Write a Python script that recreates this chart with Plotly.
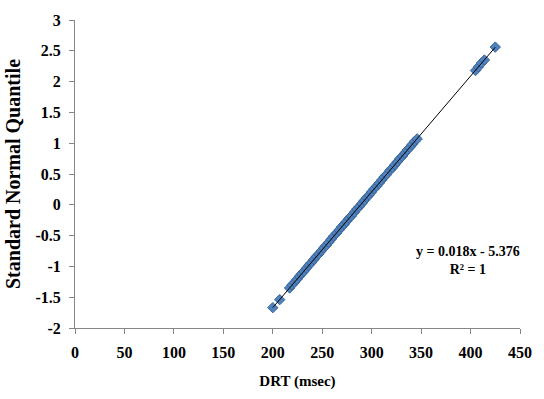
import numpy as np
import plotly.graph_objects as go

# DRT (msec) values and their standard normal quantiles
drt = [200, 207, 217, 219.5, 222, 224.5, 227, 229, 231.5, 234, 236.5, 239, 241.5,
       244, 246.5, 249, 251.5, 254, 256.5, 259, 261.5, 264.5, 267, 269.5, 272,
       274.5, 277, 279.5, 282.5, 285, 287.5, 290, 292.5, 295, 297.5, 300, 302.5,
       305, 307.5, 310, 312.5, 315, 318.5, 321, 323.5, 326, 328.5, 331, 333.5,
       336, 338.5, 341, 343.5, 346, 405, 408, 411, 414, 425]
quantile = [-1.67, -1.54, -1.35, -1.30, -1.26, -1.21, -1.16, -1.12, -1.08, -1.03,
            -0.98, -0.94, -0.89, -0.84, -0.80, -0.75, -0.70, -0.66, -0.61, -0.56,
            -0.51, -0.46, -0.41, -0.36, -0.32, -0.27, -0.22, -0.18, -0.12, -0.07,
            -0.03, 0.02, 0.07, 0.12, 0.16, 0.21, 0.26, 0.30, 0.35, 0.40, 0.45,
            0.49, 0.56, 0.60, 0.65, 0.70, 0.75, 0.79, 0.84, 0.89, 0.93, 0.98,
            1.03, 1.07, 2.18, 2.24, 2.30, 2.35, 2.56]

x_ticks = [0, 50, 100, 150, 200, 250, 300, 350, 400, 450]
x_ticktext = ["%d" % v for v in x_ticks]
y_ticks = [-2, -1.5, -1, -0.5, 0, 0.5, 1, 1.5, 2, 2.5, 3]
y_ticktext = ["-2", "-1.5", "-1", "-0.5", "0", "0.5", "1", "1.5", "2", "2.5", "3"]
equation_text = "y = 0.018x - 5.376<br>R² = 1"

FONT = "Liberation Serif"
AXIS_COLOR = "#868686"

slope, intercept = np.polyfit(drt, quantile, 1)
fit_x = [min(drt), max(drt)]
fit_y = [slope * v + intercept for v in fit_x]

fig = go.Figure()
fig.add_trace(go.Scatter(
    x=drt, y=quantile, mode="markers",
    marker=dict(symbol="diamond", size=8, color="#4F81BD",
                line=dict(color="#3A6595", width=1)),
    showlegend=False,
))
fig.add_trace(go.Scatter(
    x=fit_x, y=fit_y, mode="lines",
    line=dict(color="black", width=1),
    showlegend=False,
))

fig.add_annotation(
    x=397, y=-0.9, xref="x", yref="y", text=equation_text, showarrow=False,
    align="center", font=dict(family=FONT, size=14, color="black", weight=700),
)

axis_common = dict(
    showline=True, linecolor=AXIS_COLOR, linewidth=1, showgrid=False,
    zeroline=False, ticks="outside", ticklen=5, tickcolor=AXIS_COLOR,
    tickfont=dict(family=FONT, size=16, color="black", weight=700),
)

fig.update_xaxes(
    range=[0, 450], tickvals=x_ticks, ticktext=x_ticktext, ticklabelstandoff=5,
    title=dict(text="DRT (msec)", standoff=15,
               font=dict(family=FONT, size=15, color="black", weight=700)),
    **axis_common,
)
fig.update_yaxes(
    range=[-2, 3], tickvals=y_ticks, ticktext=y_ticktext, ticklabelstandoff=5,
    title=dict(text="Standard Normal Quantile", standoff=9,
               font=dict(family=FONT, size=20, color="black", weight=700)),
    **axis_common,
)

fig.update_layout(
    width=544, height=399,
    margin=dict(l=75, r=13, t=13, b=71),
    paper_bgcolor="white", plot_bgcolor="white",
)

fig.write_html("out.html")
